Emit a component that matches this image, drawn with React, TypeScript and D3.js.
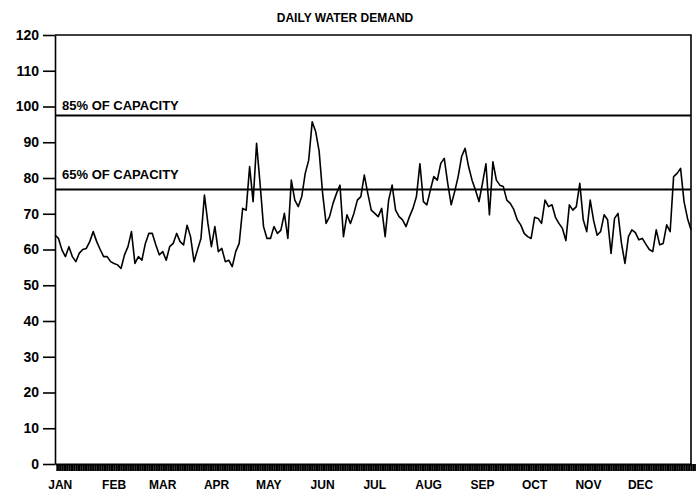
import { useEffect, useRef } from 'react';
import * as d3 from 'd3';

// demand, one value every 2 days starting Jan 1
const demand = [
  64, 63.1, 59.9, 58, 60.8, 58, 56.6, 59, 60, 60.3, 62.2, 65, 62.2, 60, 58, 58, 56.6, 56.1, 55.7, 54.7,
  58.5, 60.8, 65, 56.1, 58, 57, 61.7, 64.5, 64.5, 61.3, 58.5, 59.4, 57, 60.8, 61.7, 64.5, 62.2, 61.3, 66.8, 63.6,
  56.6, 59.9, 63.1, 75.2, 67.3, 60.8, 66.4, 59.4, 60.3, 56.6, 57, 55.2, 59.4, 61.7, 71.5, 71, 83.2, 73.4, 89.7, 78.5,
  66.4, 63.1, 63.1, 66.4, 64.5, 65.4, 70.1, 63.1, 79.4, 73.8, 72, 74.8, 81.3, 85, 95.7, 93, 87.5, 75.7, 67.3, 69.2,
  72.9, 75.7, 78, 63.6, 69.7, 67.3, 70.1, 73.8, 74.8, 80.8, 75.7, 71, 70.1, 69.2, 71.5, 63.6, 73.8, 78, 71, 69.2,
  68.3, 66.4, 69.2, 71.5, 74.8, 84, 73.4, 72.5, 76.6, 80.4, 79.4, 84.1, 85.5, 78.5, 72.5, 76.2, 80.4, 86, 88.3, 83.2,
  79.4, 76.6, 73.4, 78.5, 84, 69.7, 84.5, 79.4, 78, 77.6, 73.8, 72.9, 71.2, 68.3, 66.9, 64.5, 63.6, 63.1, 69, 68.7,
  67.3, 73.8, 72, 72.5, 69, 67.3, 65.9, 62.5, 72.5, 71, 72, 78.5, 68.3, 65, 73.8, 68, 64, 65, 69.7, 68.3,
  58.9, 68.7, 70.1, 61.7, 56.1, 63.6, 65.5, 64.7, 62.7, 63.1, 61.5, 60, 59.4, 65.5, 61.3, 61.7, 66.9, 65, 80.4, 81.3,
  82.7, 73.4, 68.7, 65.5,
];
const dayStep = 2;

const months = ['JAN', 'FEB', 'MAR', 'APR', 'MAY', 'JUN', 'JUL', 'AUG', 'SEP', 'OCT', 'NOV', 'DEC'];
const monthStartDays = [0, 31, 59, 90, 120, 151, 181, 212, 243, 273, 304, 334];

const yTicks = [0, 10, 20, 30, 40, 50, 60, 70, 80, 90, 100, 110, 120];

const capacityLabels = ['85% OF CAPACITY', '65% OF CAPACITY'];
const capacityValues = [97.5, 76.8];

const W = 696;
const H = 492;

const App = () => {
  const ref = useRef<SVGSVGElement | null>(null);

  useEffect(() => {
    const svg = d3.select(ref.current);
    svg.selectAll('*').remove();

    const x = d3.scaleLinear().domain([0, 366]).range([55, 691]);
    const y = d3.scaleLinear().domain([0, 120]).range([464, 35]);

    const font = "'Liberation Sans', Arial, sans-serif";

    // title
    svg.append('text')
      .attr('x', 345)
      .attr('y', 22)
      .attr('text-anchor', 'middle')
      .attr('font-family', font)
      .attr('font-weight', 'bold')
      .attr('font-size', 12)
      .text('DAILY WATER DEMAND');

    // frame: top and right
    svg.append('path')
      .attr('d', `M${x(0)},${y(120)}H${x(366)}V${y(0)}`)
      .attr('fill', 'none')
      .attr('stroke', '#000')
      .attr('stroke-width', 1.6);

    // y axis
    const yAxis = svg.append('g')
      .attr('transform', `translate(${x(0)},0)`)
      .call(d3.axisLeft(y).tickValues(yTicks).tickSize(12).tickSizeOuter(0).tickPadding(4));
    yAxis.select('.domain').attr('stroke-width', 1.6);
    yAxis.selectAll('.tick line').attr('stroke-width', 1.6);
    yAxis.selectAll('.tick text')
      .attr('font-family', font)
      .attr('font-weight', 'bold')
      .attr('font-size', 14)
      .attr('fill', '#000');

    // bottom axis: one tick per day, forms a solid band
    const xAxis = svg.append('g')
      .attr('transform', `translate(0,${y(0)})`)
      .call(d3.axisBottom(x).tickValues(d3.range(1, 370)).tickSize(7).tickSizeOuter(0).tickFormat(() => ''));
    xAxis.select('.domain').attr('stroke-width', 2);
    xAxis.selectAll('.tick line').attr('stroke-width', 1.8);

    // month labels
    svg.append('g')
      .selectAll('text')
      .data(months)
      .enter()
      .append('text')
      .attr('x', (_, i) => x(monthStartDays[i] + 3))
      .attr('y', 489)
      .attr('text-anchor', 'middle')
      .attr('font-family', font)
      .attr('font-weight', 'bold')
      .attr('font-size', 12)
      .text(d => d);

    // capacity lines
    const cap = svg.append('g');
    cap.selectAll('line')
      .data(capacityValues)
      .enter()
      .append('line')
      .attr('x1', x(0))
      .attr('x2', x(366))
      .attr('y1', d => y(d))
      .attr('y2', d => y(d))
      .attr('stroke', '#000')
      .attr('stroke-width', 2);
    cap.selectAll('text')
      .data(capacityLabels)
      .enter()
      .append('text')
      .attr('x', 62)
      .attr('y', (_, i) => y(capacityValues[i]) - (i === 0 ? 5 : 10))
      .attr('font-family', font)
      .attr('font-weight', 'bold')
      .attr('font-size', 13)
      .text(d => d);

    // demand line
    const line = d3.line<number>()
      .x((_, i) => x(i * dayStep))
      .y(d => y(d));
    svg.append('path')
      .datum(demand)
      .attr('d', line)
      .attr('fill', 'none')
      .attr('stroke', '#000')
      .attr('stroke-width', 1.6)
      .attr('stroke-linejoin', 'round');
  }, []);

  return (
    <svg
      ref={ref}
      width={W}
      height={H}
      style={{ position: 'absolute', left: 0, top: 0, background: '#fff' }}
    />
  );
};

export default App;
